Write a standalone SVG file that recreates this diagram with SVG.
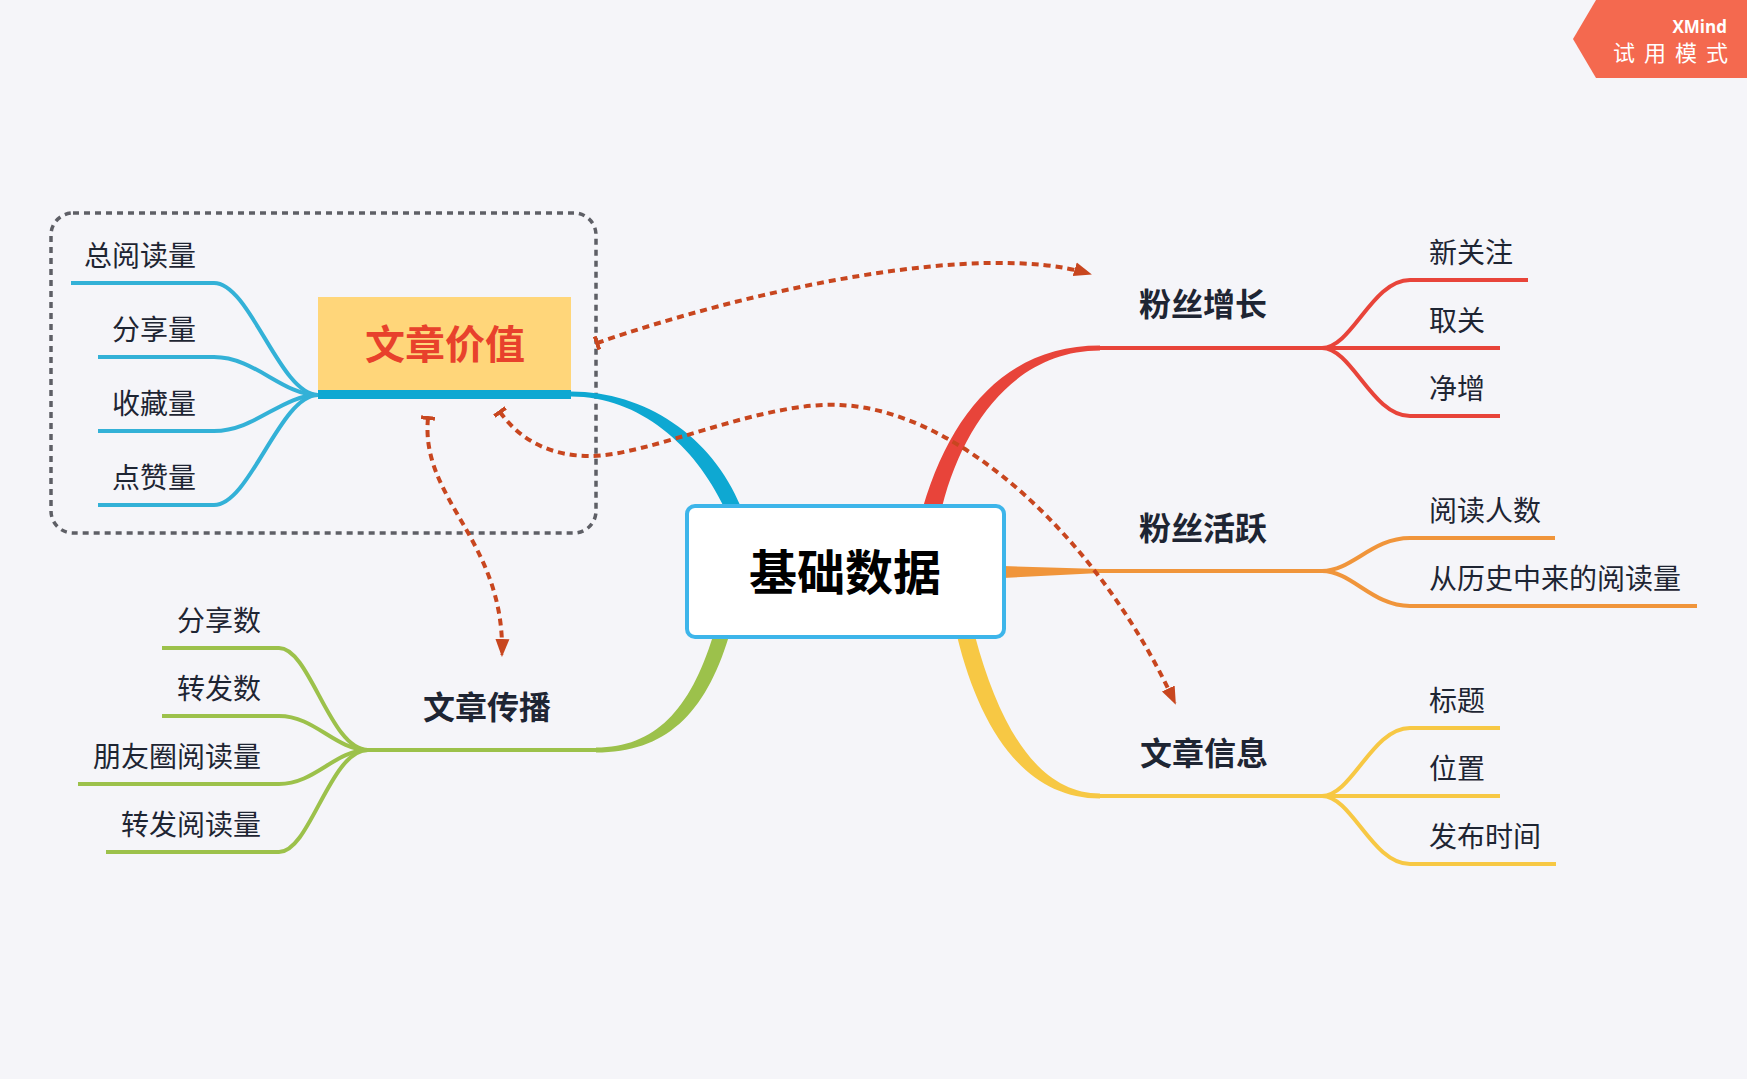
<svg xmlns="http://www.w3.org/2000/svg" width="1747" height="1079" viewBox="0 0 1747 1079">
<style>
.bg{fill:#F5F5F9}
.t{font-family:"Noto Sans CJK SC","Noto Sans",sans-serif;fill:#1E2533}
.c{font-size:28px}
.m{font-size:32px;font-weight:bold}
.ln{fill:none;stroke-linecap:butt}
.cy{stroke:#33B1D7;stroke-width:4}
.rd{stroke:#E8443A;stroke-width:4}
.or{stroke:#F0953B;stroke-width:4}
.ye{stroke:#F7C844;stroke-width:4}
.gr{stroke:#9CC14B;stroke-width:4}
.rel{fill:none;stroke:#C8461F;stroke-width:4;stroke-dasharray:7 5}
</style>
<defs>
<marker id="arr" markerUnits="userSpaceOnUse" markerWidth="20" markerHeight="16" refX="16" refY="8" orient="auto">
<path d="M0 1 L18 8 L0 15 Z" fill="#C8461F"/>
</marker>
<marker id="tee" markerUnits="userSpaceOnUse" markerWidth="4" markerHeight="14" refX="2" refY="7" orient="auto">
<rect x="0" y="0" width="4" height="14" fill="#C8461F"/>
</marker>
</defs>
<rect class="bg" x="0" y="0" width="1747" height="1079"/>

<g id="boundary">
<rect x="51" y="213" width="545" height="320" rx="22" fill="none" stroke="#5E5F66" stroke-width="3.5" stroke-dasharray="6 5"/>
</g>

<g id="connectors">
<!-- tapered main branches -->
<path d="M571 391.5 C645 391.5 712 436 741 507 L724 507 C695 446 640 396.5 571 396.5 Z" fill="#0EA8D2"/>
<path d="M923 507 C952 410 1008 345.5 1100 345.5 L1100 350.5 C1018 350.5 964 420 942 507 Z" fill="#E8443A"/>
<path d="M1003 566 L1100 569 L1100 573 L1003 578 Z" fill="#F0953B"/>
<path d="M957 636 C980 730 1025 798.5 1100 798.5 L1100 793.5 C1040 793.5 1000 730 975 636 Z" fill="#F7C844"/>
<path d="M713 636 C690 710 655 747.5 596 747.5 L596 752.5 C665 752.5 705 715 729 636 Z" fill="#9CC14B"/>
<!-- topic lines -->
<path class="ln rd" d="M1099 348 H1322"/>
<path class="ln or" d="M1099 571 H1322"/>
<path class="ln ye" d="M1099 796 H1322"/>
<path class="ln gr" d="M597 750 H368"/>
<!-- 粉丝增长 children -->
<path class="ln rd" d="M1322 348 C1352 348 1372 280 1410 280 H1528"/>
<path class="ln rd" d="M1322 348 H1500"/>
<path class="ln rd" d="M1322 348 C1352 348 1372 416 1410 416 H1500"/>
<!-- 粉丝活跃 children -->
<path class="ln or" d="M1322 571 C1352 571 1372 538 1410 538 H1555"/>
<path class="ln or" d="M1322 571 C1352 571 1372 606 1410 606 H1697"/>
<!-- 文章信息 children -->
<path class="ln ye" d="M1322 796 C1352 796 1372 728 1410 728 H1500"/>
<path class="ln ye" d="M1322 796 H1500"/>
<path class="ln ye" d="M1322 796 C1352 796 1372 864 1410 864 H1556"/>
<!-- 文章传播 children -->
<path class="ln gr" d="M368 750 C330 750 310 648 279 648 H162"/>
<path class="ln gr" d="M368 750 C335 750 315 716 279 716 H162"/>
<path class="ln gr" d="M368 750 C335 750 315 784 279 784 H78"/>
<path class="ln gr" d="M368 750 C330 750 310 852 279 852 H106"/>
<!-- 文章价值 children -->
<path class="ln cy" d="M318 395 C280 395 250 283 214 283 H71"/>
<path class="ln cy" d="M318 395 C282 395 255 357 214 357 H98"/>
<path class="ln cy" d="M318 395 C282 395 255 431 214 431 H98"/>
<path class="ln cy" d="M318 395 C280 395 250 505 214 505 H98"/>
<!-- relationships -->
<path class="rel" d="M597 343 C750 290 980 240 1090 274" marker-start="url(#tee)" marker-end="url(#arr)"/>
<path class="rel" d="M500 412 C520 440 550 456 590 456 C650 456 760 401 840 405 C960 410 1100 540 1175 703" marker-start="url(#tee)" marker-end="url(#arr)"/>
<path class="rel" d="M428 418 C420 500 505 540 502 655" marker-start="url(#tee)" marker-end="url(#arr)"/>
</g>

<g id="central">
<rect x="687" y="506" width="317" height="131" rx="8" fill="#FFFFFF" stroke="#3DB5EA" stroke-width="4"/>
<text class="t" x="845" y="590" font-size="48" font-weight="bold" text-anchor="middle" style="fill:#000000">基础数据</text>
</g>

<g id="wzjz">
<rect x="318" y="297" width="253" height="93" fill="#FFD67A"/>
<rect x="318" y="390" width="253" height="9" fill="#0EA8D2"/>
<text class="t" x="445" y="359" font-size="40" font-weight="bold" text-anchor="middle" style="fill:#E8412C">文章价值</text>
</g>
<g id="zydl"><text class="t c" x="196" y="266" text-anchor="end">总阅读量</text></g>
<g id="fxl"><text class="t c" x="196" y="340" text-anchor="end">分享量</text></g>
<g id="scl"><text class="t c" x="196" y="414" text-anchor="end">收藏量</text></g>
<g id="dzl"><text class="t c" x="196" y="488" text-anchor="end">点赞量</text></g>

<g id="fszz"><text class="t m" x="1203" y="316" text-anchor="middle">粉丝增长</text></g>
<g id="xgz"><text class="t c" x="1429" y="263">新关注</text></g>
<g id="qg"><text class="t c" x="1429" y="331">取关</text></g>
<g id="jz"><text class="t c" x="1429" y="399">净增</text></g>

<g id="fshy"><text class="t m" x="1203" y="540" text-anchor="middle">粉丝活跃</text></g>
<g id="ydrs"><text class="t c" x="1429" y="521">阅读人数</text></g>
<g id="lszl"><text class="t c" x="1429" y="589">从历史中来的阅读量</text></g>

<g id="wzxx"><text class="t m" x="1204" y="765" text-anchor="middle">文章信息</text></g>
<g id="bt"><text class="t c" x="1429" y="711">标题</text></g>
<g id="wz"><text class="t c" x="1429" y="779">位置</text></g>
<g id="fbsj"><text class="t c" x="1429" y="847">发布时间</text></g>

<g id="wzcb"><text class="t m" x="487" y="719" text-anchor="middle">文章传播</text></g>
<g id="fxs"><text class="t c" x="261" y="631" text-anchor="end">分享数</text></g>
<g id="zfs"><text class="t c" x="261" y="699" text-anchor="end">转发数</text></g>
<g id="pyq"><text class="t c" x="261" y="767" text-anchor="end">朋友圈阅读量</text></g>
<g id="zfyd"><text class="t c" x="261" y="835" text-anchor="end">转发阅读量</text></g>

<g id="badge">
<path d="M1596 0 H1747 V78 H1596 L1573 39 Z" fill="#F4694F"/>
<text x="1727" y="33" font-family="Open Sans, Liberation Sans, sans-serif" font-size="17" font-weight="bold" fill="#FFFFFF" text-anchor="end">XMind</text>
<text x="1613" y="61" font-family="Noto Sans CJK SC, sans-serif" font-size="22" fill="#FFFFFF" letter-spacing="9">试用模式</text>
</g>
</svg>
